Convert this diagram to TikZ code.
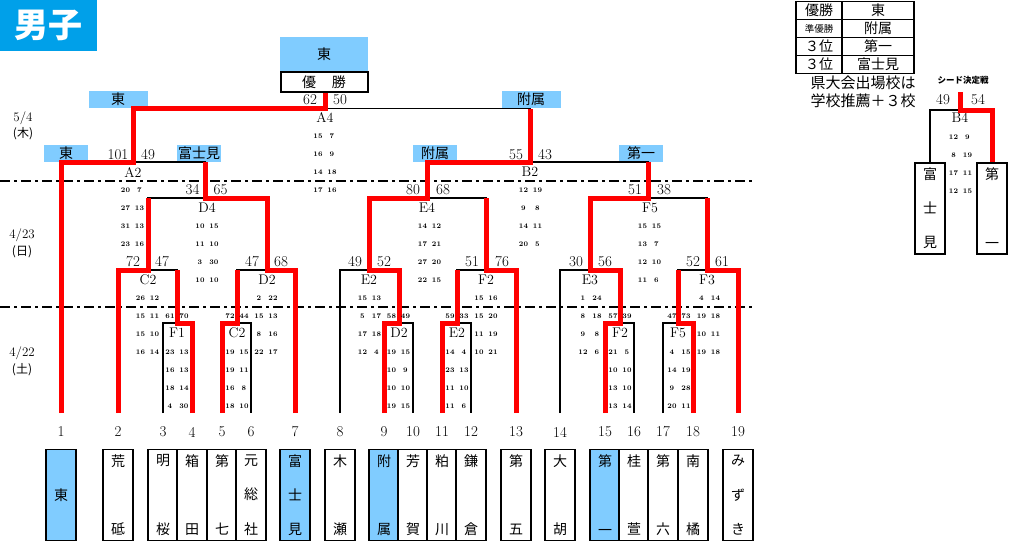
\documentclass[tikz,border=0pt]{standalone}
\usepackage{fontspec}
\newfontfamily\jp{Noto Sans CJK JP}
\usetikzlibrary{positioning}

\definecolor{titleblue}{RGB}{0,160,233}
\definecolor{lblue}{RGB}{128,204,255}
\definecolor{winred}{RGB}{255,0,0}

% school name written downwards: top, middle, bottom character
\newcommand\tate[3]{\vbox to 80pt{\offinterlineskip
  \hbox to 22pt{\hss#1\hss}\vfill\hbox to 22pt{\hss#2\hss}\vfill\hbox to 22pt{\hss#3\hss}}}
% one line of quarter scores
\newcommand\qpair[2]{\makebox[11pt]{#1}\hspace{3pt}\makebox[11pt]{#2}}

\tikzset{
  bkline/.style={line width=1.6pt},
  redline/.style={line width=5pt, draw=winred},
  daysep/.style={line width=1.6pt, dash pattern=on 10pt off 4pt on 3pt off 4pt},
  namebox/.style={draw, line width=1.6pt, minimum width=30pt, minimum height=91pt, inner sep=0pt, font=\jp\fontsize{14}{14}\selectfont},
  winlbl/.style={fill=lblue, inner sep=0pt, minimum height=17pt, font=\jp\fontsize{14}{14}\selectfont},
  bigsc/.style={inner sep=0pt, font=\fontsize{15}{15}\selectfont},
  qsc/.style={inner sep=0pt, font=\bfseries\fontsize{7}{7}\selectfont},
  mname/.style={inner sep=0pt, font=\fontsize{14}{14}\selectfont},
  datelbl/.style={inner sep=0pt, font=\fontsize{13}{13}\selectfont},
  tcell/.style={draw, line width=1.6pt, minimum height=18pt, inner sep=0pt, font=\jp\fontsize{14}{14}\selectfont},
}

\begin{document}
\begin{tikzpicture}[x=1pt,y=-1pt]
	\useasboundingbox (0,0) rectangle (1024,543);

	% heading
	\node[fill=titleblue, text=white, minimum width=97pt, minimum height=51pt, inner sep=0pt, font=\jp\bfseries\fontsize{34}{34}\selectfont] (title) at (48.5,25.5) {男子};

	% days
	\node[datelbl] (d54) at (23,118) {5/4};
	\node[datelbl, font=\jp\fontsize{12}{12}\selectfont] (d54w) at (23,134) {(木)};
	\node[datelbl] (d423) at (22,235) {4/23};
	\node[datelbl, font=\jp\fontsize{12}{12}\selectfont] (d423w) at (22,252) {(日)};
	\node[datelbl] (d422) at (22,353) {4/22};
	\node[datelbl, font=\jp\fontsize{12}{12}\selectfont] (d422w) at (22,370) {(土)};
	\draw[daysep] (0,181) -- (755,181);
	\draw[daysep] (0,307) -- (755,307);

	% schools
	\foreach \i/\x/\a/\b/\c/\f in {1/61//東//lblue, 2/118/荒//砥/white, 3/163/明//桜/white, 4/192/箱//田/white,
		5/222/第//七/white, 6/251/元/総/社/white, 7/295/富/士/見/lblue, 8/340/木//瀬/white,
		9/384/附//属/lblue, 10/413/芳//賀/white, 11/442/粕//川/white, 12/471/鎌//倉/white,
		13/516/第//五/white, 14/560/大//胡/white, 15/605/第//一/lblue, 16/634/桂//萱/white,
		17/663/第//六/white, 18/693/南//橘/white, 19/738/み/ず/き/white}
	{
		\coordinate (p\i) at (\x,413);
		\node[bigsc] (no\i) at (\x,432) {\i};
		\node[namebox, fill=\f] (n\i) at (\x,495) {\tate{\a}{\b}{\c}};
	}

	% champion
	\node[fill=lblue, minimum width=88pt, minimum height=34pt, inner sep=0pt, font=\jp\fontsize{14}{14}\selectfont] (champ) at (324,54) {東};
	\node[draw, line width=2pt, minimum width=87pt, minimum height=20pt, inner sep=0pt, font=\jp\fontsize{14}{14}\selectfont, below=0pt of champ] (yusho) {優\hspace{16pt}勝};

	% winners at the semi finals
	\node[winlbl, minimum width=59pt] (wA4l) at (118,99.5) {東};
	\node[winlbl, minimum width=59pt] (wA4r) at (531,99.5) {附属};
	\node[winlbl, minimum width=44pt] (wA2l) at (66,153.5) {東};
	\node[winlbl, minimum width=44pt] (wA2r) at (199,153.5) {富士見};
	\node[winlbl, minimum width=44pt] (wB2l) at (435,153.5) {附属};
	\node[winlbl, minimum width=44pt] (wB2r) at (641,153.5) {第一};

	% match points
	\coordinate (F1) at (177,323);
	\coordinate (C2a) at (237,323);
	\coordinate (D2a) at (399,323);
	\coordinate (E2a) at (457,323);
	\coordinate (F2a) at (620,323);
	\coordinate (F5a) at (678,323);
	\coordinate (C2) at (148,270);
	\coordinate (D2) at (267,270);
	\coordinate (E2) at (369,270);
	\coordinate (F2) at (486,270);
	\coordinate (E3) at (590,270);
	\coordinate (F3) at (707,270);
	\coordinate (D4) at (205,198);
	\coordinate (E4) at (427,198);
	\coordinate (F5) at (648,198);
	\coordinate (A2) at (133,162);
	\coordinate (B2) at (530,162);
	\coordinate (A4) at (325,108.5);

	% bracket
	\draw[bkline] (p3) |- (F1) -| (p4);
	\draw[bkline] (p5) |- (C2a) -| (p6);
	\draw[bkline] (p9) |- (D2a) -| (p10);
	\draw[bkline] (p11) |- (E2a) -| (p12);
	\draw[bkline] (p15) |- (F2a) -| (p16);
	\draw[bkline] (p17) |- (F5a) -| (p18);
	\draw[bkline] (p2) |- (C2) -| (F1);
	\draw[bkline] (C2a) |- (D2) -| (p7);
	\draw[bkline] (p8) |- (E2) -| (D2a);
	\draw[bkline] (E2a) |- (F2) -| (p13);
	\draw[bkline] (p14) |- (E3) -| (F2a);
	\draw[bkline] (F5a) |- (F3) -| (p19);
	\draw[bkline] (C2) |- (D4) -| (D2);
	\draw[bkline] (E2) |- (E4) -| (F2);
	\draw[bkline] (E3) |- (F5) -| (F3);
	\draw[bkline] (p1) |- (A2) -| (D4);
	\draw[bkline] (E4) |- (B2) -| (F5);
	\draw[bkline] (A2) |- (A4) -| (B2);

	% winning ways
	\draw[redline] (p1) |- (A2) |- (A4) -- (A4 |- yusho.south);
	\draw[redline] (p2) |- (C2) -- (C2 |- D4);
	\draw[redline] (p4) |- (F1) -- (F1 |- C2);
	\draw[redline] (p5) |- (C2a) -- (C2a |- D2);
	\draw[redline] (p7) |- (D2) |- (D4) -- (D4 |- A2);
	\draw[redline] (p9) |- (D2a) |- (E2) |- (E4) |- (B2) -- (B2 |- A4);
	\draw[redline] (p11) |- (E2a) -- (E2a |- F2);
	\draw[redline] (p13) |- (F2) -- (F2 |- E4);
	\draw[redline] (p15) |- (F2a) |- (E3) |- (F5) -- (F5 |- B2);
	\draw[redline] (p18) |- (F5a) -- (F5a |- F3);
	\draw[redline] (p19) |- (F3) -- (F3 |- F5);

	% match names
	\foreach \m/\x/\y [count=\k] in {A4/325/118, A2/133/172, B2/530/172, D4/207/208, E4/427/208, F5/650/208,
		C2/148/280, D2/267/280, E2/369/280, F2/486/280, E3/590/280, F3/707/280,
		F1/177/333, C2/237/333, D2/399/333, E2/457/333, F2/620/333, F5/678/333, B4/960/118}
		\node[mname] (m\k) at (\x,\y) {\m};

	% final scores
	\foreach \l/\r/\x/\y/\d [count=\k] in {62/50/325/100/15, 101/49/133/155/15, 55/43/530.5/155/14.5,
		34/65/206.5/190/14, 80/68/428/190/15, 51/38/649.5/190/14.5,
		72/47/147.5/262/14.5, 47/68/266.5/262/14.5, 49/52/369.5/262/14.5,
		51/76/487/262/15, 30/56/590.5/262/14.5, 52/61/707.5/262/14.5, 49/54/960.5/100/17.5}
	{
		\node[bigsc] (sl\k) at (\x-\d,\y) {\l};
		\node[bigsc] (sr\k) at (\x+\d,\y) {\r};
	}
	\foreach \l/\r/\x [count=\k] in {61/70/177, 72/44/237, 58/49/398.5, 59/33/457, 57/39/620, 47/73/679}
		\node[qsc] (tot\k) at (\x,316) {\qpair{\l}{\r}};

	% quarter scores
	\foreach \x/\y/\sc [count=\m] in {325/118/{15/7,16/9,14/18,17/16}, 132.5/172/{20/7,27/13,31/13,23/16},
		530.5/172/{12/19,9/8,14/11,20/5}, 207/208/{10/15,11/10,3/30,10/10},
		429.5/208/{14/12,17/21,27/20,22/15}, 649.5/208/{15/15,13/7,12/10,11/6},
		147.5/280/{26/12,15/11,15/10,16/14}, 266/280/{2/22,15/13,8/16,22/17},
		369.5/280/{15/13,5/17,17/18,12/4}, 486/280/{15/16,15/20,11/19,10/21},
		590/280/{1/24,8/18,9/8,12/6}, 708.5/280/{4/14,19/18,10/11,19/18},
		177/334/{23/13,16/13,18/14,4/30}, 237/334/{19/15,19/11,16/8,18/10},
		398.5/334/{19/15,10/9,10/10,19/15}, 457/334/{14/4,23/13,11/10,11/6},
		620/334/{21/5,10/10,13/10,13/14}, 679/334/{4/15,14/19,9/28,20/11},
		960.5/119/{12/9,8/19,17/11,12/15}}
		\foreach \a/\b [count=\k] in \sc
			\node[qsc] (q\m-\k) at (\x,\y+18*\k) {\qpair{\a}{\b}};

	% results table
	\foreach \r/\a/\b in {0/優勝/東, 1/{\fontsize{9.5}{9.5}\selectfont 準優勝}/附属, 2/３位/第一, 3/３位/富士見}
	{
		\node[tcell, minimum width=46pt] (tl\r) at (819,10.5+18*\r) {\a};
		\node[tcell, minimum width=72pt] (tr\r) at (878,10.5+18*\r) {\b};
	}
	\node[inner sep=0pt, font=\jp\fontsize{15}{15}\selectfont] (kenA) at (863,83) {県大会出場校は};
	\node[inner sep=0pt, font=\jp\fontsize{15}{15}\selectfont] (kenB) at (863,101) {学校推薦＋３校};

	% seed match
	\node[inner sep=0pt, font=\jp\bfseries\fontsize{8.5}{8.5}\selectfont] (seed) at (963,80) {シード決定戦};
	\node[namebox, line width=2pt] (s1) at (930,208) {\tate{富}{士}{見}};
	\node[namebox, line width=2pt] (s2) at (992,208) {\tate{第}{}{一}};
	\coordinate (B4) at (960,110);
	\coordinate (B4top) at (960,92);
	\draw[bkline] (s1.north) |- (B4) -| (s2.north);
	\draw[redline] (s2.north) |- (B4) -- (B4top);
\end{tikzpicture}
\end{document}
